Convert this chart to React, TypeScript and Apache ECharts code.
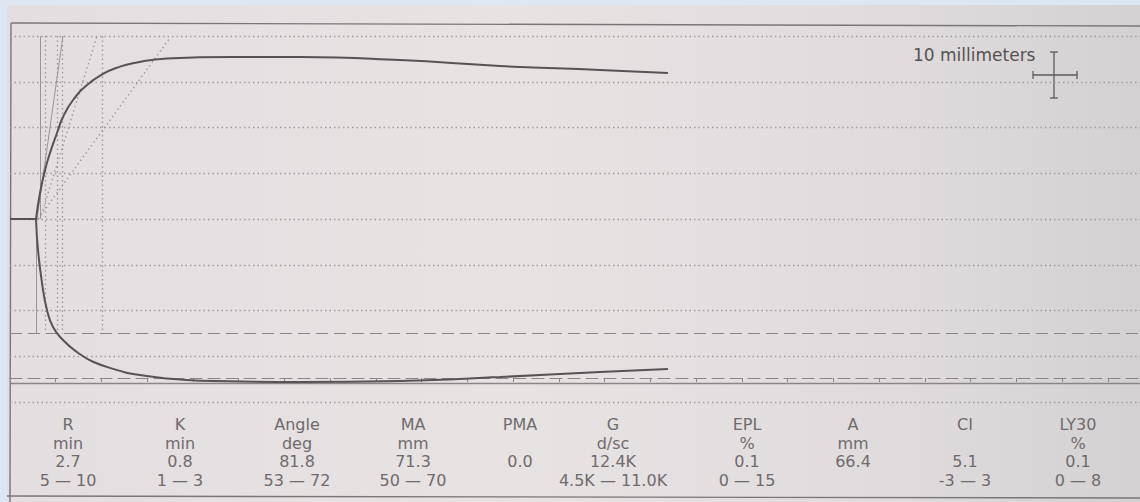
import React, { useEffect, useRef } from "react";
import * as echarts from "echarts";

// Time in minutes, amplitude in millimetres (TEG tracing)
const BASE_TIME = [0, 2.84];
const BASE_AMP = [0, 0];

const UPPER_TIME = [2.84, 3.28, 3.83, 4.37, 5.14, 5.79, 6.89, 8.42, 10.16, 12.02, 13.44, 17.16, 24.37, 31.69, 42.62, 53.55, 64.48, 71.91];
const UPPER_AMP = [0, 5.68, 10.71, 14.43, 18.8, 22.3, 26.01, 29.29, 31.7, 33.3, 34.05, 35.1, 35.41, 35.41, 34.75, 33.44, 32.57, 31.91];

const LOWER_TIME = [2.84, 3.06, 3.5, 4.04, 4.7, 5.79, 7.32, 9.07, 12.02, 13.44, 17.16, 20.77, 31.69, 42.62, 53.55, 64.48, 71.91];
const LOWER_AMP = [0, -6.78, -13.99, -19.89, -23.61, -26.45, -29.07, -31.2, -33.2, -33.9, -34.85, -35.35, -35.63, -35.41, -34.54, -33.44, -32.79];

// Marker lines (minutes)
const R_LINE_UPPER = 3.28;
const R_LINE_LOWER = 2.84;
const DOTTED_MARKERS = [3.88, 5.19, 5.74, 10.11];
const MARKER_TOP = 40;
const MARKER_BOTTOM = -25;
// angle construction lines: [startTime, startAmp, endTime, endAmp]
const ANGLE_LINES = [
  [2.95, 0, 5.79, 40],
  [3.28, 0, 9.51, 40],
  [3.06, 0, 17.49, 39.6],
];
const DASHED_LEVEL = -25;
const FRAME_LEVEL = -36;

// Parameter table
const PARAM_NAMES = ["R", "K", "Angle", "MA", "PMA", "G", "EPL", "A", "CI", "LY30"];
const PARAM_UNITS = ["min", "min", "deg", "mm", "", "d/sc", "%", "mm", "", "%"];
const PARAM_VALUES = ["2.7", "0.8", "81.8", "71.3", "0.0", "12.4K", "0.1", "66.4", "5.1", "0.1"];
const PARAM_RANGES = ["5 — 10", "1 — 3", "53 — 72", "50 — 70", "", "4.5K — 11.0K", "0 — 15", "", "-3 — 3", "0 — 8"];

const SCALE_LABEL = "10 millimeters";

const COL_X = [68, 180, 297, 413, 520, 613, 747, 853, 965, 1078];
const ROW_Y = [424, 443, 461, 480];

const zip = (a: number[], b: number[]) => a.map((v, i) => [v, b[i]]);

export default function App() {
  const ref = useRef<HTMLDivElement>(null);
  useEffect(() => {
    const chart = echarts.init(ref.current!, null, { renderer: "svg" });
    const font = "DejaVu Sans";
    const textColor = "#6f6b6c";
    const tableTexts: any[] = [];
    const rows = [PARAM_NAMES, PARAM_UNITS, PARAM_VALUES, PARAM_RANGES];
    rows.forEach((row, ri) => {
      row.forEach((t, ci) => {
        if (!t) return;
        tableTexts.push({
          type: "text",
          x: COL_X[ci],
          y: ROW_Y[ri],
          silent: true,
          style: {
            text: t,
            fill: textColor,
            fontSize: 16,
            fontFamily: font,
            align: "center",
            verticalAlign: "middle",
          },
        });
      });
    });
    const lineStyleFrame = { stroke: "#7a7677", lineWidth: 1.4 };
    const crossStyle = { stroke: "#5f5b5c", lineWidth: 1.3 };

    const dottedGray = { color: "#9b9697", width: 1.3, type: [1.5, 3] as any };

    const markData: any[] = [
      { yAxis: DASHED_LEVEL, lineStyle: { color: "#8a8586", width: 1.2, type: [12, 6] } },
      { yAxis: FRAME_LEVEL, lineStyle: { color: "#8a8586", width: 1.4, type: "solid" } },
      [
        { coord: [R_LINE_UPPER, MARKER_TOP], lineStyle: { color: "#9a9596", width: 1, type: "solid" } },
        { coord: [R_LINE_UPPER, 0] },
      ],
      [
        { coord: [R_LINE_LOWER, 0], lineStyle: { color: "#9a9596", width: 1, type: "solid" } },
        { coord: [R_LINE_LOWER, MARKER_BOTTOM] },
      ],
      ...DOTTED_MARKERS.map((t) => [
        { coord: [t, MARKER_TOP], lineStyle: dottedGray },
        { coord: [t, MARKER_BOTTOM] },
      ]),
      ...ANGLE_LINES.map((l, i) => [
        {
          coord: [l[0], l[1]],
          lineStyle: i === 0 ? { color: "#9a9596", width: 1, type: "solid" } : dottedGray,
        },
        { coord: [l[2], l[3]] },
      ]),
    ];

    chart.setOption({
      animation: false,
      backgroundColor: new echarts.graphic.LinearGradient(0, 0, 1, 0, [
        { offset: 0, color: "#e3dedf" },
        { offset: 0.45, color: "#e8e3e3" },
        { offset: 0.8, color: "#dfdbdc" },
        { offset: 1, color: "#d4d1d3" },
      ]),
      grid: { left: 10, right: 0, top: 36, bottom: 100, containLabel: false },
      xAxis: [
        {
          type: "value",
          min: 0,
          max: 123.5,
          interval: 5,
          position: "bottom",
          offset: -24,
          axisLine: { show: true, onZero: false, lineStyle: { color: "#8a8586", width: 1.2, type: [12, 6] } },
          axisTick: { show: true, length: 4, lineStyle: { color: "#8a8586", width: 1 } },
          axisLabel: { show: false },
          splitLine: { show: false },
        },
      ],
      yAxis: {
        type: "value",
        min: -40,
        max: 40,
        interval: 10,
        axisLine: { show: false },
        axisTick: { show: false },
        axisLabel: { show: false },
        splitLine: { show: true, lineStyle: { color: "#a19c9d", width: 1.3, type: [1.5, 3] } },
      },
      series: [
        {
          type: "line",
          data: zip(BASE_TIME, BASE_AMP),
          showSymbol: false,
          symbol: "none",
          z: 3,
          lineStyle: { color: "#575354", width: 2 },
          markLine: {
            silent: true,
            symbol: "none",
            label: { show: false },
            z: 1,
            data: markData,
          },
        },
        {
          type: "line",
          data: zip(UPPER_TIME, UPPER_AMP),
          showSymbol: false,
          symbol: "none",
          smooth: 0.5,
          z: 4,
          lineStyle: { color: "#575354", width: 2 },
        },
        {
          type: "line",
          data: zip(LOWER_TIME, LOWER_AMP),
          showSymbol: false,
          symbol: "none",
          smooth: 0.5,
          z: 4,
          lineStyle: { color: "#575354", width: 2 },
        },
      ],
      graphic: {
        elements: [
          { type: "rect", silent: true, shape: { x: 0, y: 0, width: 1140, height: 5 }, style: { fill: "#dce7f3" } },
          { type: "rect", silent: true, shape: { x: 0, y: 0, width: 7, height: 502 }, style: { fill: "#dce7f3" } },
          { type: "line", silent: true, shape: { x1: 11, y1: 23, x2: 1140, y2: 26 }, style: lineStyleFrame },
          { type: "line", silent: true, shape: { x1: 11, y1: 23, x2: 10, y2: 502 }, style: lineStyleFrame },
          { type: "line", silent: true, shape: { x1: 7, y1: 496, x2: 1140, y2: 498 }, style: lineStyleFrame },
          {
            type: "text",
            x: 913,
            y: 55,
            silent: true,
            style: { text: SCALE_LABEL, fill: "#555152", fontSize: 17, fontFamily: font, align: "left", verticalAlign: "middle" },
          },
          { type: "line", silent: true, shape: { x1: 1054, y1: 52, x2: 1054, y2: 98 }, style: crossStyle },
          { type: "line", silent: true, shape: { x1: 1050, y1: 52, x2: 1058, y2: 52 }, style: crossStyle },
          { type: "line", silent: true, shape: { x1: 1050, y1: 98, x2: 1058, y2: 98 }, style: crossStyle },
          { type: "line", silent: true, shape: { x1: 1033, y1: 75, x2: 1077, y2: 75 }, style: crossStyle },
          { type: "line", silent: true, shape: { x1: 1033, y1: 71, x2: 1033, y2: 79 }, style: crossStyle },
          { type: "line", silent: true, shape: { x1: 1077, y1: 71, x2: 1077, y2: 79 }, style: crossStyle },
          ...tableTexts,
        ],
      },
    });
    return () => chart.dispose();
  }, []);
  return <div ref={ref} style={{ position: "fixed", left: 0, top: 0, width: 1140, height: 502 }} />;
}
